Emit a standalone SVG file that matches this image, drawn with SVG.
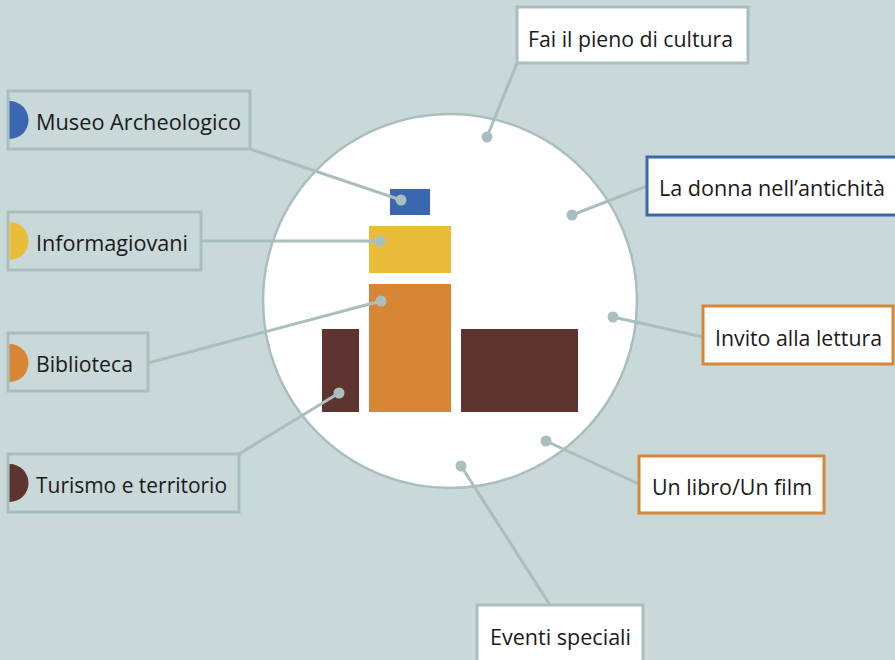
<svg xmlns="http://www.w3.org/2000/svg" width="895" height="660" viewBox="0 0 895 660">
<style>
.bg{fill:#c9d8d8}
.lbox{fill:#c9d8d8;stroke:#a9bfbd;stroke-width:3}
.wbox{fill:#ffffff;stroke-width:3}
.gray{stroke:#a9bfbd}
.blue{stroke:#3b66b0}
.orange{stroke:#d6873a}
.t{font-family:"Open Sans","Noto Sans",sans-serif;font-size:22.5px;fill:#1a1a1a}
.conn line{stroke:#a9bfbd;stroke-width:3}
.dot{fill:#a9bfbd}
</style>
<rect class="bg" x="0" y="0" width="895" height="660"/>
<g id="center">
<circle cx="450" cy="301" r="187" fill="#ffffff" stroke="#a9bfbd" stroke-width="2.5"/>
<rect x="390" y="189" width="40" height="26" fill="#3b66b0"/>
<rect x="369" y="226" width="82" height="47" fill="#e9bd3a"/>
<rect x="369" y="284" width="82" height="128" fill="#d68634"/>
<rect x="322" y="329" width="37" height="83" fill="#5e3430"/>
<rect x="461" y="329" width="117" height="83" fill="#5e3430"/>
</g>
<g id="connectors" class="conn">
<line x1="250" y1="149" x2="401" y2="200"/>
<line x1="201" y1="241" x2="380" y2="241"/>
<line x1="148" y1="363" x2="381" y2="301"/>
<line x1="239" y1="454" x2="339" y2="393"/>
<line x1="517" y1="63" x2="487" y2="137"/>
<line x1="647" y1="186" x2="572" y2="215"/>
<line x1="703" y1="337" x2="613" y2="317"/>
<line x1="639" y1="484" x2="546" y2="441"/>
<line x1="550" y1="605" x2="461" y2="466"/>
<circle class="dot" cx="401" cy="200" r="5.5"/>
<circle class="dot" cx="380" cy="241" r="5.5"/>
<circle class="dot" cx="381" cy="301" r="5.5"/>
<circle class="dot" cx="339" cy="393" r="5.5"/>
<circle class="dot" cx="487" cy="137" r="5.5"/>
<circle class="dot" cx="572" cy="215" r="5.5"/>
<circle class="dot" cx="613" cy="317" r="5.5"/>
<circle class="dot" cx="546" cy="441" r="5.5"/>
<circle class="dot" cx="461" cy="466" r="5.5"/>
</g>
<g id="museo">
<rect class="lbox" x="8" y="91" width="242" height="58"/>
<path d="M9.5,101 A19,19 0 0 1 9.5,139 Z" fill="#3b66b0"/>
<text class="t" x="36" y="130" textLength="205" lengthAdjust="spacingAndGlyphs">Museo Archeologico</text>
</g>
<g id="informagiovani">
<rect class="lbox" x="8" y="212" width="193" height="58"/>
<path d="M9.5,222 A19,19 0 0 1 9.5,260 Z" fill="#e9bd3a"/>
<text class="t" x="36" y="251" textLength="152" lengthAdjust="spacingAndGlyphs">Informagiovani</text>
</g>
<g id="biblioteca">
<rect class="lbox" x="8" y="333" width="140" height="58"/>
<path d="M9.5,344 A19,19 0 0 1 9.5,382 Z" fill="#d68634"/>
<text class="t" x="36" y="372" textLength="97" lengthAdjust="spacingAndGlyphs">Biblioteca</text>
</g>
<g id="turismo">
<rect class="lbox" x="8" y="454" width="231" height="58"/>
<path d="M9.5,464 A19,19 0 0 1 9.5,502 Z" fill="#5e3430"/>
<text class="t" x="36" y="493" textLength="191" lengthAdjust="spacingAndGlyphs">Turismo e territorio</text>
</g>
<g id="fai">
<rect class="wbox gray" x="517" y="7" width="231" height="56"/>
<text class="t" x="528" y="47" textLength="205" lengthAdjust="spacingAndGlyphs">Fai il pieno di cultura</text>
</g>
<g id="donna">
<rect class="wbox blue" x="647" y="157" width="252" height="58"/>
<text class="t" x="659" y="196" textLength="226" lengthAdjust="spacingAndGlyphs">La donna nell’antichità</text>
</g>
<g id="invito">
<rect class="wbox orange" x="703" y="306" width="190" height="58"/>
<text class="t" x="715" y="346" textLength="167" lengthAdjust="spacingAndGlyphs">Invito alla lettura</text>
</g>
<g id="libro">
<rect class="wbox orange" x="639" y="456" width="185" height="57"/>
<text class="t" x="652" y="495" textLength="160" lengthAdjust="spacingAndGlyphs">Un libro/Un film</text>
</g>
<g id="eventi">
<rect class="wbox gray" x="477" y="605" width="166" height="62"/>
<text class="t" x="490" y="645" textLength="141" lengthAdjust="spacingAndGlyphs">Eventi speciali</text>
</g>
</svg>
